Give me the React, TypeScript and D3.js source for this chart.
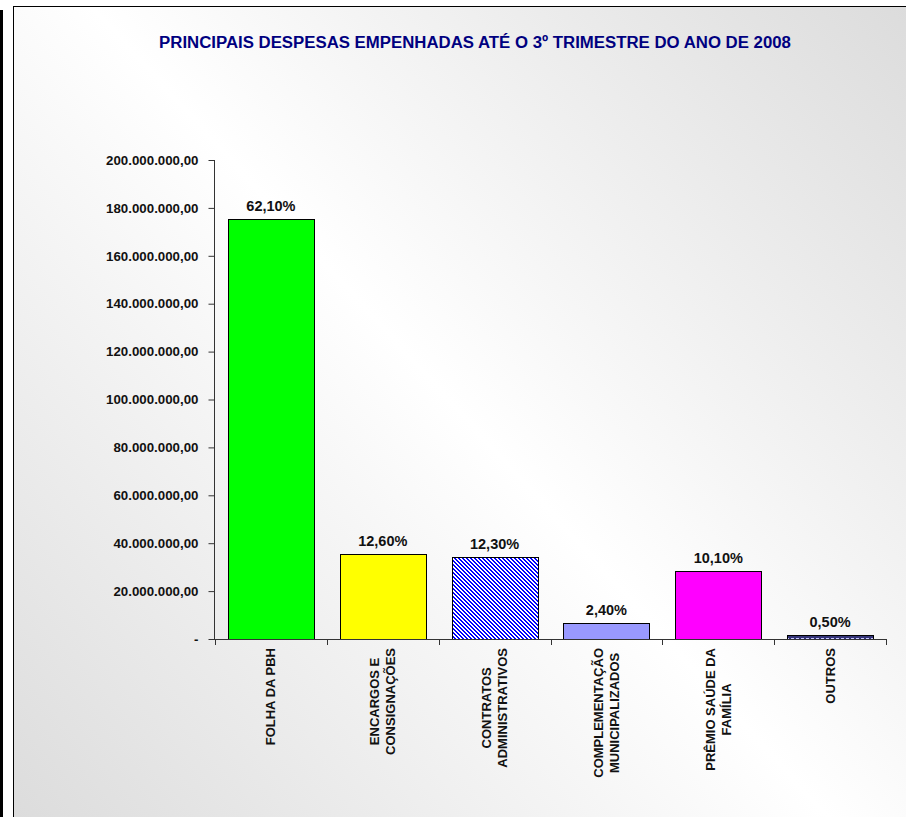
import { useEffect, useRef } from 'react';
import * as d3 from 'd3';

const categories = [
  'FOLHA DA PBH',
  'ENCARGOS E|CONSIGNAÇÕES',
  'CONTRATOS|ADMINISTRATIVOS',
  'COMPLEMENTAÇÃO|MUNICIPALIZADOS',
  'PRÊMIO SAÚDE DA|FAMÍLIA',
  'OUTROS',
];
const values = [175.4e6, 35.5e6, 34.4e6, 6.7e6, 28.4e6, 1.5e6];
const percentLabels = ['62,10%', '12,60%', '12,30%', '2,40%', '10,10%', '0,50%'];
const fills = ['#00ff00', '#ffff00', 'url(#hatch)', '#9999ff', '#ff00ff', 'url(#dots)'];
const yTicks = [0, 20e6, 40e6, 60e6, 80e6, 100e6, 120e6, 140e6, 160e6, 180e6, 200e6];
const title = 'PRINCIPAIS DESPESAS EMPENHADAS ATÉ O 3º TRIMESTRE DO ANO DE 2008';

const FONT = "Arial, 'Liberation Sans', sans-serif";

export default function App() {
  const svgRef = useRef<SVGSVGElement>(null);

  useEffect(() => {
    if (!svgRef.current) return;
    const width = 906;
    const height = 817;

    const root = d3.select(svgRef.current);
    root.selectAll('*').remove();
    root.attr('width', width).attr('height', height);

    const defs = root.append('defs');
    const grad = defs
      .append('linearGradient')
      .attr('id', 'bg')
      .attr('gradientUnits', 'userSpaceOnUse')
      .attr('x1', 13)
      .attr('y1', 817)
      .attr('x2', 906)
      .attr('y2', 6);
    grad.append('stop').attr('offset', 0).attr('stop-color', '#dcdcdc');
    grad.append('stop').attr('offset', 0.5).attr('stop-color', '#ffffff');
    grad.append('stop').attr('offset', 1).attr('stop-color', '#dcdcdc');

    // diagonal blue hatch, drawn pixel by pixel
    const hatch = defs
      .append('pattern')
      .attr('id', 'hatch')
      .attr('patternUnits', 'userSpaceOnUse')
      .attr('width', 4)
      .attr('height', 4);
    hatch.append('rect').attr('width', 4).attr('height', 4).attr('fill', '#ffffff');
    for (let r = 0; r < 4; r++) {
      for (let k = 0; k < 2; k++) {
        hatch
          .append('rect')
          .attr('x', (r + k) % 4)
          .attr('y', r)
          .attr('width', 1)
          .attr('height', 1)
          .attr('fill', '#0000ff')
          .attr('shape-rendering', 'crispEdges');
      }
    }

    const dots = defs
      .append('pattern')
      .attr('id', 'dots')
      .attr('patternUnits', 'userSpaceOnUse')
      .attr('width', 5)
      .attr('height', 4)
      .attr('y', 1);
    dots.append('rect').attr('width', 5).attr('height', 4).attr('fill', '#333377');
    dots.append('rect').attr('x', 1).attr('y', 1).attr('width', 3).attr('height', 1).attr('fill', '#c8c8ff');

    // background + frame
    root.append('rect').attr('width', width).attr('height', height).attr('fill', '#ffffff');
    root.append('rect').attr('x', 0).attr('y', 10).attr('width', 3).attr('height', height - 10).attr('fill', '#000');
    root
      .append('rect')
      .attr('x', 13.5)
      .attr('y', 6.5)
      .attr('width', width)
      .attr('height', height)
      .attr('fill', 'url(#bg)')
      .attr('stroke', '#000')
      .attr('stroke-width', 1);

    root
      .append('text')
      .attr('x', 475)
      .attr('y', 48)
      .attr('text-anchor', 'middle')
      .attr('font-family', FONT)
      .attr('font-weight', 'bold')
      .attr('font-size', '16.8px')
      .attr('fill', '#000080')
      .text(title);

    const x = d3
      .scaleBand<string>()
      .domain(categories)
      .range([215, 886])
      .paddingInner(0.23)
      .paddingOuter(0.115);
    const y = d3.scaleLinear().domain([0, 200e6]).range([639, 160]);

    const g = root.append('g');

    // y axis
    const brl = d3.formatLocale({ decimal: ',', thousands: '.', grouping: [3], currency: ['R$', ''] }).format(',.2f');
    const yAxis = d3
      .axisLeft(y)
      .tickValues(yTicks)
      .tickSize(6)
      .tickPadding(10)
      .tickFormat((d) => (+d === 0 ? '-' : brl(+d)));
    const ya = g.append('g').attr('transform', 'translate(214.5,0)').call(yAxis);
    ya.select('.domain').attr('stroke', '#333').attr('d', `M0,${y(200e6)}V${y(0)}`);
    ya.selectAll('.tick line').attr('stroke', '#333');
    ya.selectAll('.tick text')
      .attr('font-family', FONT)
      .attr('font-weight', 'bold')
      .attr('font-size', '13.3px')
      .attr('fill', '#111');

    // bars
    g.selectAll('rect.bar')
      .data(values)
      .join('rect')
      .attr('class', 'bar')
      .attr('x', (_, i) => Math.round(x(categories[i])!) + 0.5)
      .attr('y', (d) => Math.round(y(d)) + 0.5)
      .attr('width', Math.round(x.bandwidth()))
      .attr('height', (d) => Math.round(y(0)) - Math.round(y(d)))
      .attr('fill', (_, i) => fills[i])
      .attr('stroke', '#000')
      .attr('stroke-width', 1);

    // x axis
    const step = x.step();
    const bounds = categories.map((c) => x(c)! - step * 0.115).concat([886]);
    g.append('line')
      .attr('x1', 214)
      .attr('x2', 886)
      .attr('y1', 639.5)
      .attr('y2', 639.5)
      .attr('stroke', '#333');
    g.selectAll('line.xtick')
      .data(bounds)
      .join('line')
      .attr('class', 'xtick')
      .attr('x1', (d) => Math.round(d) + 0.5)
      .attr('x2', (d) => Math.round(d) + 0.5)
      .attr('y1', 639)
      .attr('y2', 645)
      .attr('stroke', '#333');

    // percent labels
    g.selectAll('text.pct')
      .data(values)
      .join('text')
      .attr('class', 'pct')
      .attr('x', (_, i) => x(categories[i])! + x.bandwidth() / 2)
      .attr('y', (d) => y(d) - 8)
      .attr('text-anchor', 'middle')
      .attr('font-family', FONT)
      .attr('font-weight', 'bold')
      .attr('font-size', '14.5px')
      .attr('fill', '#111')
      .text((_, i) => percentLabels[i]);

    // rotated category labels
    categories.forEach((c) => {
      const lines = c.split('|');
      const cx = x(c)! + x.bandwidth() / 2;
      const lg = g.append('g');
      const texts = lines.map((ln) =>
        lg
          .append('text')
          .attr('font-family', FONT)
          .attr('font-weight', 'bold')
          .attr('font-size', '13px')
          .attr('fill', '#111')
          .attr('text-anchor', 'middle')
          .text(ln)
      );
      const maxLen = d3.max(texts, (t) => (t.node() as SVGTextElement).getComputedTextLength()) || 0;
      const cy = 648 + maxLen / 2;
      texts.forEach((t, i) => {
        const bx = cx + (i - (lines.length - 1) / 2) * 16 + 4.5;
        t.attr('transform', `translate(${bx},${cy}) rotate(-90)`);
      });
    });
  }, []);

  return (
    <div style={{ position: 'absolute', left: 0, top: 0 }}>
      <svg ref={svgRef}></svg>
    </div>
  );
}
